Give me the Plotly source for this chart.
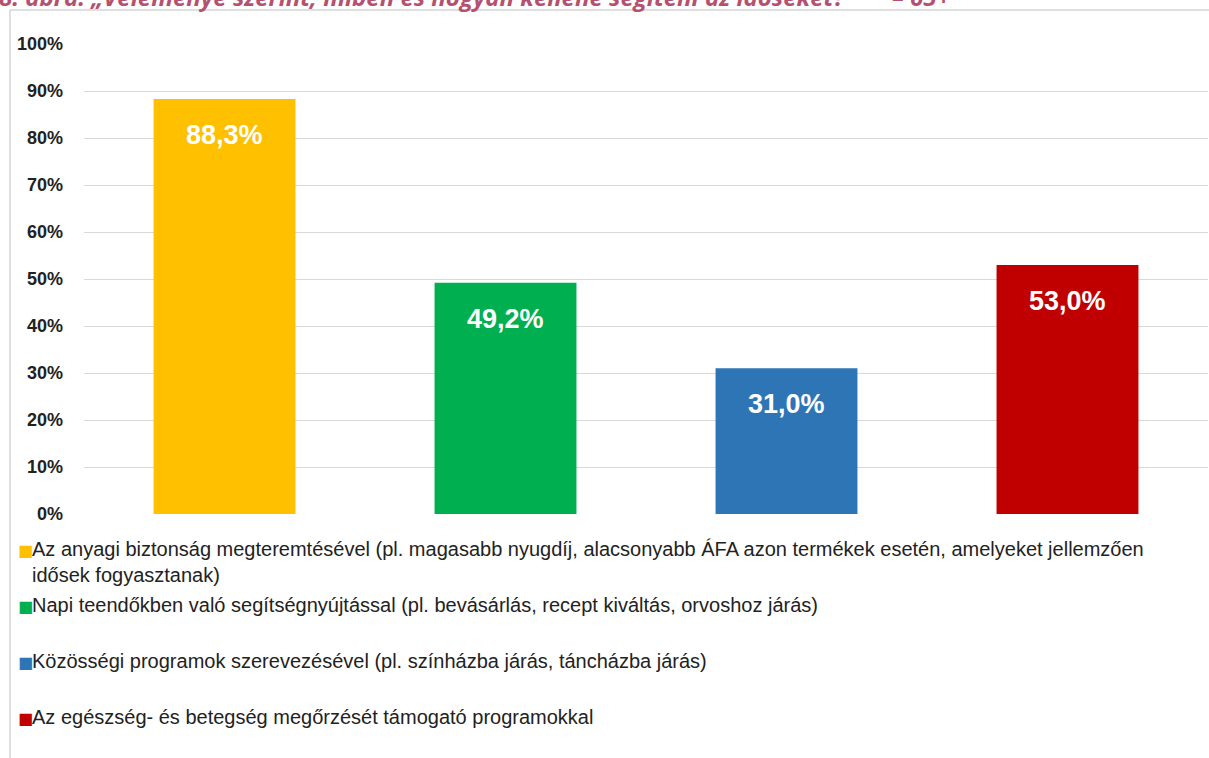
import plotly.graph_objects as go

# Survey answers: how should older people be helped?
categories = [
    "Az anyagi biztonság megteremtésével (pl. magasabb nyugdíj, alacsonyabb ÁFA azon termékek esetén, amelyeket jellemzően<br>idősek fogyasztanak)",
    "Napi teendőkben való segítségnyújtással (pl. bevásárlás, recept kiváltás, orvoshoz járás)",
    "Közösségi programok szerevezésével (pl. színházba járás, táncházba járás)",
    "Az egészség- és betegség megőrzését támogató programokkal",
]
values = [88.3, 49.2, 31.0, 53.0]
colors = ["#FFC000", "#00B050", "#2E75B6", "#C00000"]
value_labels = ["88,3%", "49,2%", "31,0%", "53,0%"]
y_ticks = list(range(0, 101, 10))
y_tick_text = [f"{t}%" for t in y_ticks]
title_text = "8. ábra: „Véleménye szerint, miben és hogyan kellene segíteni az időseket?”&nbsp;&nbsp;&nbsp;&nbsp;&nbsp;&nbsp;– 65+"

W, H = 1209, 758
M_L, M_R, M_T, M_B = 84, 1, 44, 244
plot_h = H - M_T - M_B
plot_w = W - M_L - M_R


def py(pixel_y):
    """Convert a pixel row to paper y."""
    return (H - M_B - pixel_y) / plot_h


def px(pixel_x):
    """Convert a pixel column to paper x."""
    return (pixel_x - M_L) / plot_w


x_pos = list(range(len(values)))

fig = go.Figure()
fig.add_trace(go.Bar(
    x=x_pos,
    y=values,
    marker=dict(color=colors, line=dict(width=0)),
    width=0.505,
    hoverinfo="skip",
    showlegend=False,
))

annotations = []
# Value labels inside the top of each bar
for xi, v, lab in zip(x_pos, values, value_labels):
    annotations.append(dict(
        x=xi, y=v, xref="x", yref="y",
        text=f"<b>{lab}</b>", showarrow=False,
        yanchor="middle", yshift=-36,
        font=dict(family="Liberation Sans, Arial", size=27, color="white"),
    ))

# Legend rows: coloured square + description
legend_rows = [549, 605, 661, 717]
legend_font = dict(family="Liberation Sans, Arial", size=20, color="#222222")
for row_y, cat, col in zip(legend_rows, categories, colors):
    lines = cat.split("<br>")
    annotations.append(dict(
        x=px(16), y=py(row_y + 1), xref="paper", yref="paper",
        text="■", showarrow=False, xanchor="left", yanchor="middle",
        font=dict(family="DejaVu Sans", size=16, color=col),
    ))
    for k, line in enumerate(lines):
        annotations.append(dict(
            x=px(30), y=py(row_y + 26 * k), xref="paper", yref="paper",
            text=line, showarrow=False, xanchor="left", yanchor="middle",
            font=legend_font,
        ))

# Figure caption, partly above the visible area
annotations.append(dict(
    x=px(-3), y=py(15), xref="paper", yref="paper",
    text=f"<b><i>{title_text}</i></b>", showarrow=False,
    xanchor="left", yanchor="bottom",
    font=dict(family="Open Sans", size=24, color="#B5506F"),
))

shapes = [
    # frame lines around the chart area
    dict(type="line", xref="paper", yref="paper", x0=px(10), x1=px(W), y0=py(10), y1=py(10),
         line=dict(color="#D4D4D4", width=1.5)),
    dict(type="line", xref="paper", yref="paper", x0=px(10), x1=px(10), y0=py(10), y1=py(H),
         line=dict(color="#D4D4D4", width=1.5)),
]

fig.update_layout(
    width=W, height=H,
    margin=dict(l=M_L, r=M_R, t=M_T, b=M_B),
    paper_bgcolor="white", plot_bgcolor="white",
    annotations=annotations, shapes=shapes,
    xaxis=dict(range=[-0.5, 3.5], showticklabels=False, showgrid=False, zeroline=False,
               showline=False, fixedrange=True),
    yaxis=dict(range=[0, 100], tickvals=y_ticks, ticktext=y_tick_text,
               showgrid=True, gridcolor="#D9D9D9", gridwidth=1, zeroline=False,
               showline=False, ticks="", ticklabelstandoff=20,
               tickfont=dict(family="Liberation Sans, Arial", size=18,
                             color="#222222", weight="bold")),
    showlegend=False,
)

fig.write_html("out.html")
